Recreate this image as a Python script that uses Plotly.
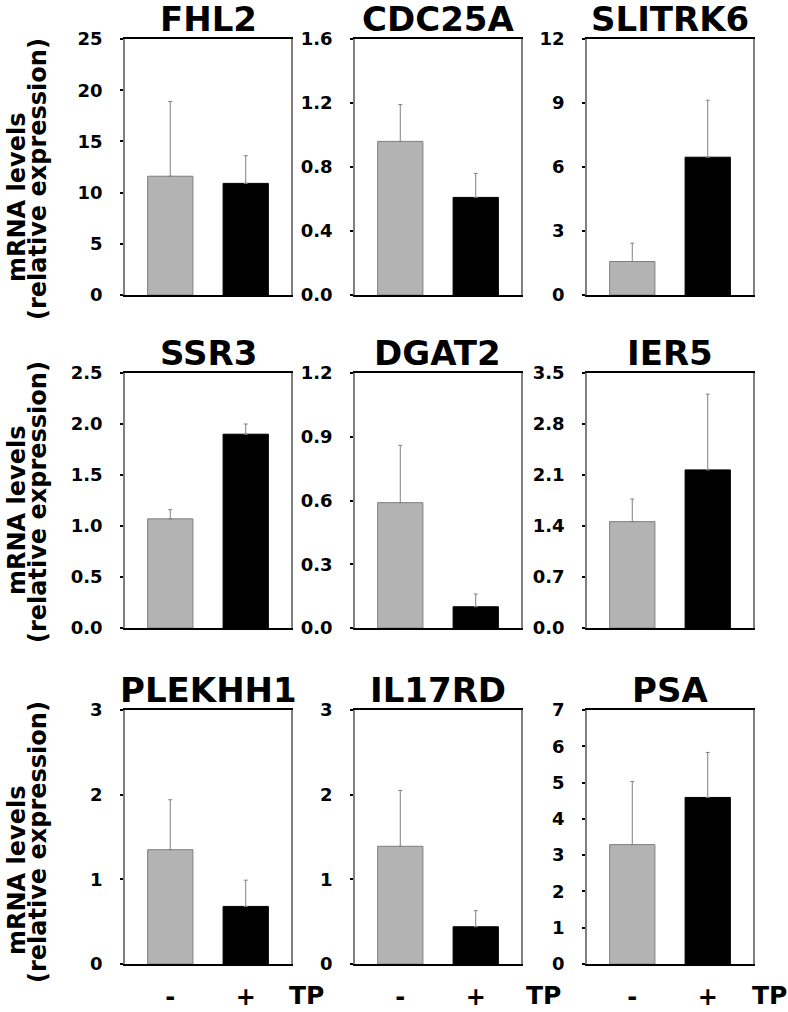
import plotly.graph_objects as go

W, H = 788, 1012

# ---- data ----
genes = ["FHL2", "CDC25A", "SLITRK6", "SSR3", "DGAT2", "IER5", "PLEKHH1", "IL17RD", "PSA"]
groups = ["-", "+"]
means = {
    "FHL2": [11.6, 10.9],
    "CDC25A": [0.96, 0.61],
    "SLITRK6": [1.57, 6.46],
    "SSR3": [1.07, 1.90],
    "DGAT2": [0.59, 0.10],
    "IER5": [1.46, 2.17],
    "PLEKHH1": [1.35, 0.68],
    "IL17RD": [1.39, 0.44],
    "PSA": [3.29, 4.59],
}
errors = {
    "FHL2": [7.3, 2.7],
    "CDC25A": [0.23, 0.15],
    "SLITRK6": [0.86, 2.67],
    "SSR3": [0.09, 0.10],
    "DGAT2": [0.27, 0.06],
    "IER5": [0.31, 1.04],
    "PLEKHH1": [0.59, 0.31],
    "IL17RD": [0.66, 0.19],
    "PSA": [1.74, 1.24],
}
y_max = {"FHL2": 25, "CDC25A": 1.6, "SLITRK6": 12, "SSR3": 2.5, "DGAT2": 1.2,
         "IER5": 3.5, "PLEKHH1": 3, "IL17RD": 3, "PSA": 7}
y_dtick = {"FHL2": 5, "CDC25A": 0.4, "SLITRK6": 3, "SSR3": 0.5, "DGAT2": 0.3,
           "IER5": 0.7, "PLEKHH1": 1, "IL17RD": 1, "PSA": 1}
y_fmt = {"FHL2": "d", "CDC25A": ".1f", "SLITRK6": "d", "SSR3": ".1f", "DGAT2": ".1f",
         "IER5": ".1f", "PLEKHH1": "d", "IL17RD": "d", "PSA": "d"}
ytitle_line1 = "mRNA levels"
ytitle_line2 = "(relative expression)"
treatment_label = "TP"

# ---- layout geometry (pixels) ----
col_px = [(125, 291), (355, 521), (587, 753)]
row_px = [(39, 295), (373, 628), (710, 964)]
tp_x_px = [306, 543, 769]
ytitle_centers = [(198, 179), (511, 502), (871, 842)]

def px_x(x):
    return x / W

def px_y(y):
    return 1 - y / H

FONT = "DejaVu Sans"
fig = go.Figure()
layout = dict(
    width=W, height=H, margin=dict(l=0, r=0, t=0, b=0, autoexpand=False),
    paper_bgcolor="white", plot_bgcolor="white", showlegend=False,
    font=dict(family=FONT, color="black"),
)
annotations = []
bar_colors = ["#b3b3b3", "#000000"]
line_colors = ["#7f7f7f", "#000000"]

for i, g in enumerate(genes):
    r, c = divmod(i, 3)
    n = i + 1
    xa = "x" if n == 1 else f"x{n}"
    ya = "y" if n == 1 else f"y{n}"
    fig.add_trace(go.Bar(
        x=[0, 1], y=means[g], width=0.6,
        marker=dict(color=bar_colors, line=dict(color=line_colors, width=1)),
        error_y=dict(type="data", array=errors[g], arrayminus=[0, 0], symmetric=False,
                     color="#808080", thickness=1, width=2),
        xaxis=xa, yaxis=ya,
    ))
    x0, x1 = col_px[c]
    yt, yb = row_px[r]
    layout["xaxis" if n == 1 else f"xaxis{n}"] = dict(
        domain=[px_x(x0), px_x(x1)], anchor=ya, range=[-0.6, 1.6], automargin=False,
        tickvals=[0, 1], ticktext=groups, showticklabels=(r == 2), ticks="",
        ticklabelstandoff=10,
        tickfont=dict(family=FONT, size=24, color="black", weight="bold"),
        showgrid=False, zeroline=False, showline=True, linecolor="black",
        linewidth=2, mirror=True, fixedrange=True,
    )
    layout["yaxis" if n == 1 else f"yaxis{n}"] = dict(
        domain=[px_y(yb), px_y(yt)], anchor=xa, range=[0, y_max[g]], automargin=False,
        dtick=y_dtick[g], tick0=0, tickformat=y_fmt[g],
        ticks="outside", ticklen=3, tickwidth=1.5, tickcolor="black",
        ticklabelstandoff=14,
        tickfont=dict(family=FONT, size=18, color="black", weight="bold"),
        showgrid=False, zeroline=False, showline=True, linecolor="#808080",
        linewidth=1.5, mirror=True, fixedrange=True,
    )
    # panel title
    annotations.append(dict(
        text=g, x=px_x((x0 + x1) / 2), y=px_y(yt), xref="paper", yref="paper",
        xanchor="center", yanchor="bottom", showarrow=False, yshift=-2,
        font=dict(family=FONT, size=34, color="black", weight="bold"),
    ))
    if r == 2:
        annotations.append(dict(
            text=treatment_label, x=px_x(tp_x_px[c]), y=px_y(995), xref="paper", yref="paper",
            xanchor="center", yanchor="middle", showarrow=False,
            font=dict(family=FONT, size=25, color="black", weight="bold"),
        ))

for r in range(3):
    c1, c2 = ytitle_centers[r]
    annotations.append(dict(
        text=ytitle_line1, x=px_x(17), y=px_y(c1), xref="paper", yref="paper",
        xanchor="center", yanchor="middle", textangle=-90, showarrow=False,
        font=dict(family=FONT, size=24, color="black", weight="bold"),
    ))
    annotations.append(dict(
        text=ytitle_line2, x=px_x(38), y=px_y(c2), xref="paper", yref="paper",
        xanchor="center", yanchor="middle", textangle=-90, showarrow=False,
        font=dict(family=FONT, size=24, color="black", weight="bold"),
    ))

layout["annotations"] = annotations
fig.update_layout(**layout)
fig.write_html(
    "out.html",
    config={"displayModeBar": False},
    post_script="document.body.style.margin='0';document.body.style.overflow='hidden';",
)
